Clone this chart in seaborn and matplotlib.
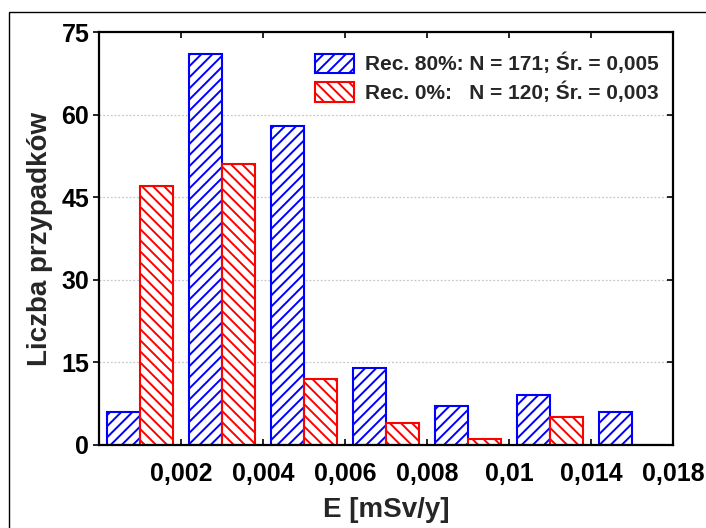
""" Histogram of annual effective dose E for two recovery variants """

import matplotlib
matplotlib.use("Agg")
import matplotlib.pyplot as plt
import matplotlib.patches as mpatches
import pandas as pd
import seaborn as sns

# data
bins = ["b1", "b2", "b3", "b4", "b5", "b6", "b7"]
edge_labels = ["0,002", "0,004", "0,006", "0,008", "0,01", "0,014", "0,018"]
series_names = ["Rec. 80%", "Rec. 0%"]
counts_rec80 = [6, 71, 58, 14, 7, 9, 6]
counts_rec0 = [47, 51, 12, 4, 1, 5, 0]
legend_labels = [
    "Rec. 80%: N = 171; Śr. = 0,005",
    "Rec. 0%:   N = 120; Śr. = 0,003",
]

colors = ["#0000ff", "#ff0000"]
hatches = ["///", "\\\\\\"]

sns.set_style("white")
plt.rcParams["font.family"] = ["Liberation Sans", "DejaVu Sans"]
plt.rcParams["font.weight"] = "bold"
plt.rcParams["hatch.linewidth"] = 1.4

df = pd.DataFrame({
    "bin": bins * 2,
    "series": [series_names[0]] * len(bins) + [series_names[1]] * len(bins),
    "count": counts_rec80 + counts_rec0,
})

fig = plt.figure(figsize=(7.06, 5.28), dpi=100)
ax = fig.add_axes([99 / 706, 1 - 445 / 528, (673 - 99) / 706, (445 - 32) / 528])

sns.barplot(data=df, x="bin", y="count", hue="series", hue_order=series_names,
            order=bins, width=0.8, ax=ax, legend=False)

# white bars with coloured outline and diagonal hatch
for container, color, hatch in zip(ax.containers, colors, hatches):
    for bar in container:
        bar.set_facecolor("white")
        bar.set_edgecolor(color)
        bar.set_hatch(hatch)
        bar.set_linewidth(1.5)

ax.set_xlim(-0.5, len(bins) - 0.5)
ax.set_ylim(0, 75)
ax.set_xticks([i + 0.5 for i in range(len(bins))])
ax.set_xticklabels(edge_labels)
ax.set_yticks([0, 15, 30, 45, 60, 75])

ax.yaxis.grid(True, linestyle=(0, (1.5, 1.5)), color="#c8c8c8", linewidth=0.9)
ax.set_axisbelow(True)

for spine in ax.spines.values():
    spine.set_color("black")
    spine.set_linewidth(1.6)

ax.tick_params(axis="x", which="both", direction="in", length=4, width=1.2,
               top=True, bottom=True, labelsize=18, pad=12, colors="black")
ax.tick_params(axis="y", which="both", direction="out", length=4, width=1.2,
               left=True, labelsize=18, pad=3, colors="black")
ax.tick_params(axis="y", which="both", right=True)
for tick in ax.yaxis.get_major_ticks():
    tick.tick2line.set_marker(0)  # right ticks point inwards
for lab in ax.get_xticklabels() + ax.get_yticklabels():
    lab.set_fontweight("bold")

ax.set_xlabel("E [mSv/y]", fontsize=20, fontweight="bold", labelpad=8)
ax.set_ylabel("Liczba przypadków", fontsize=20, fontweight="bold", labelpad=6)

handles = [mpatches.Patch(facecolor="white", edgecolor=c, hatch=h, linewidth=1.5)
           for c, h in zip(colors, hatches)]
ax.legend(handles, legend_labels, loc="upper right", frameon=False,
          prop={"size": 15, "weight": "bold"}, handlelength=1.9, handleheight=1.05,
          handletextpad=0.5, labelspacing=0.35, borderaxespad=0.3,
          bbox_to_anchor=(1.0, 0.985))

# thin frame around the whole figure
fig.patches.append(mpatches.Rectangle((9 / 706, -0.1), 1.2, 1 - 12 / 528 + 0.1,
                                      transform=fig.transFigure, fill=False,
                                      edgecolor="black", linewidth=1.0))

fig.savefig("out.png", dpi=100)
